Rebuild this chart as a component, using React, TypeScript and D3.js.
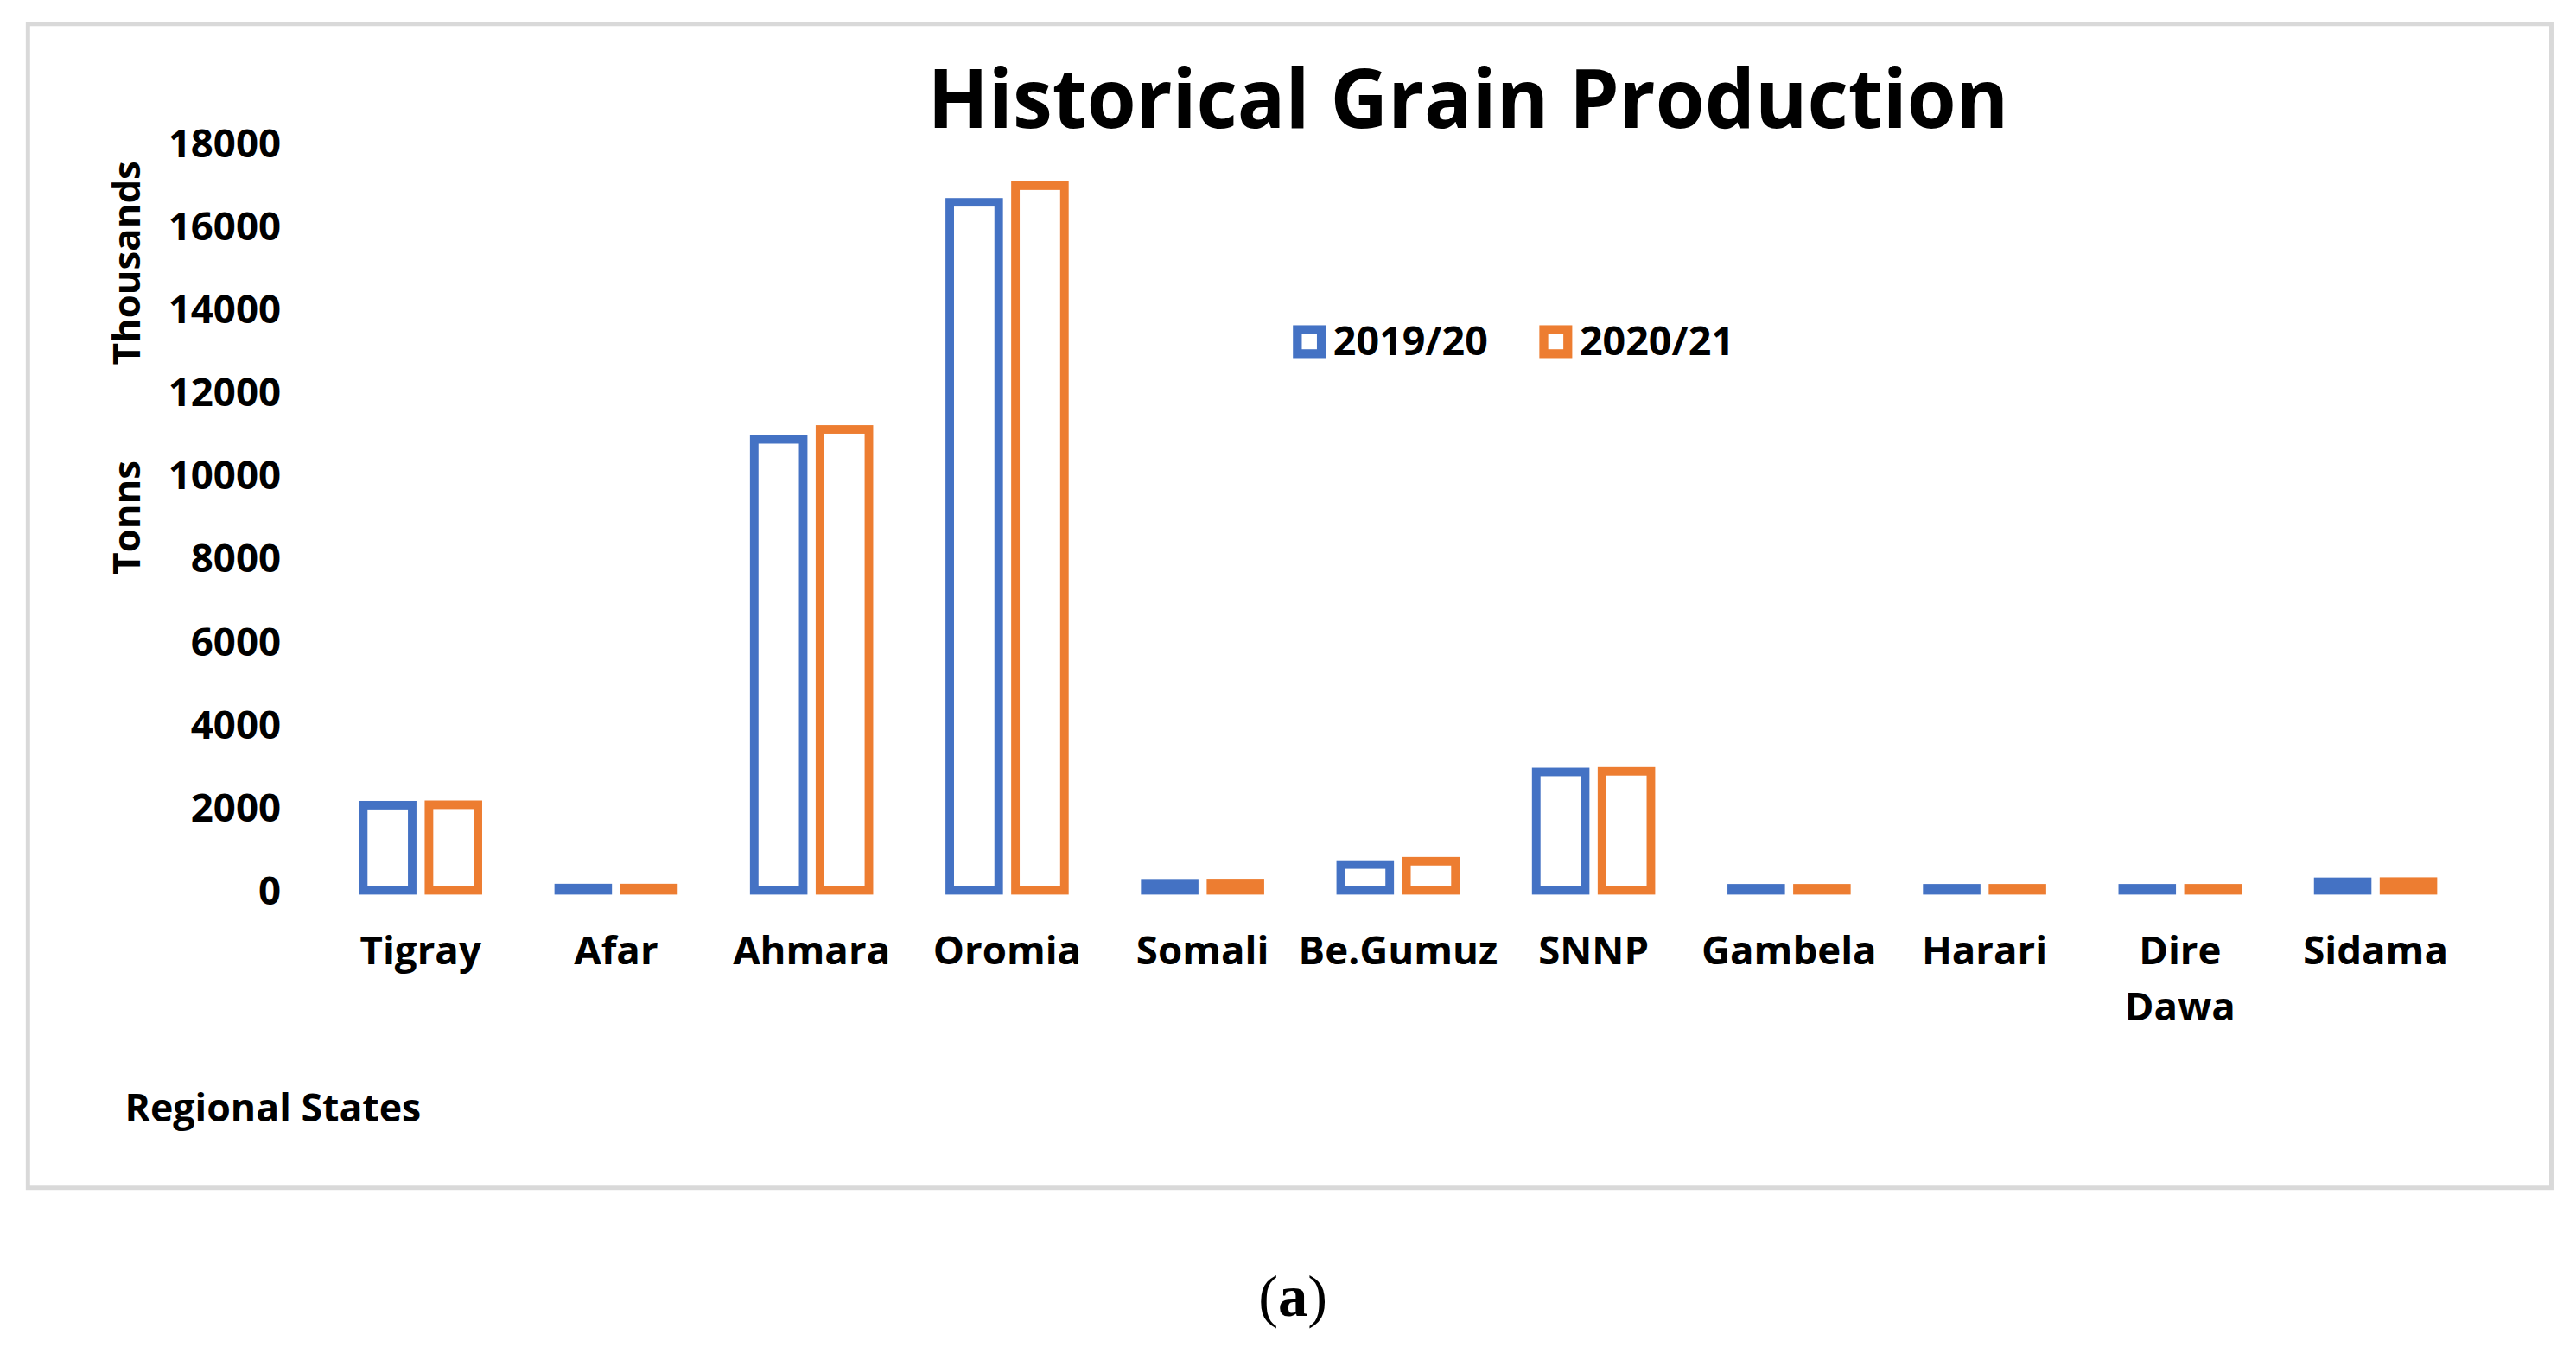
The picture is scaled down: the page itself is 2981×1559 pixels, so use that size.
import { useEffect } from "react";
import * as d3 from "d3";

const regions = [
  "Tigray",
  "Afar",
  "Ahmara",
  "Oromia",
  "Somali",
  "Be.Gumuz",
  "SNNP",
  "Gambela",
  "Harari",
  "Dire Dawa",
  "Sidama",
];
const seriesNames = ["2019/20", "2020/21"];
const prod2019 = [2050, 55, 10860, 16570, 170, 620, 2850, 50, 50, 50, 205];
const prod2020 = [2060, 55, 11100, 16970, 175, 700, 2865, 50, 50, 50, 210];
const yTicks = [0, 2000, 4000, 6000, 8000, 10000, 12000, 14000, 16000, 18000];

const colors = ["#4472C4", "#ED7D31"];
const FONT = "'Open Sans', 'DejaVu Sans', sans-serif";

// drawn in a 1568x820 coordinate space, scaled up to the window
const VW = 1568;
const VH = 820;

export default function App() {
  useEffect(() => {
    document.body.style.margin = "0";
  }, []);

  const x0 = d3.scaleBand<string>().domain(regions).range([196.5, 1505.5]).padding(0);
  const x1 = d3
    .scaleBand<string>()
    .domain(seriesNames)
    .range([-37.5, 37.5])
    .paddingInner(0.125)
    .paddingOuter(0);
  const y = d3.scaleLinear().domain([0, 18000]).range([542, 87]);

  const sw = 5.2;
  const values = [prod2019, prod2020];

  return (
    <svg
      width={2981}
      height={1559}
      viewBox={`0 0 ${VW} ${VH}`}
      style={{ display: "block", background: "#fff" }}
      fontFamily={FONT}
    >
      <rect x={17} y={14.6} width={1536} height={708.5} fill="#fff" stroke="#d9d9d9" strokeWidth={2.6} />

      <text
        x={893.6}
        y={78}
        textAnchor="middle"
        fontSize={50}
        fontWeight={700}
        textLength={658}
        lengthAdjust="spacingAndGlyphs"
        fill="#000"
      >
        Historical Grain Production
      </text>

      {/* y axis tick labels */}
      {yTicks.map((t) => (
        <text
          key={t}
          x={171}
          y={y(t)}
          dy="0.36em"
          textAnchor="end"
          fontSize={24}
          fontWeight={700}
          fill="#000"
        >
          {t}
        </text>
      ))}

      {/* axis title + display units */}
      <text
        transform="translate(85,160) rotate(-90)"
        textAnchor="middle"
        fontSize={23}
        fontWeight={700}
        fill="#000"
      >
        Thousands
      </text>
      <text
        transform="translate(85,315) rotate(-90)"
        textAnchor="middle"
        fontSize={23}
        fontWeight={700}
        fill="#000"
      >
        Tonns
      </text>

      {/* bars */}
      {regions.map((r, i) => (
        <g key={r} transform={`translate(${x0(r)! + x0.bandwidth() / 2},0)`}>
          {seriesNames.map((s, k) => {
            const v = values[k][i];
            return (
              <rect
                key={s}
                x={x1(s)! + sw / 2}
                y={y(v)}
                width={x1.bandwidth() - sw}
                height={y(0) - y(v)}
                fill="#fff"
                stroke={colors[k]}
                strokeWidth={sw}
              />
            );
          })}
        </g>
      ))}

      {/* category labels */}
      {regions.map((r) => {
        const cx = x0(r)! + x0.bandwidth() / 2;
        const lines = r === "Dire Dawa" ? ["Dire", "Dawa"] : [r];
        return (
          <text key={r} x={cx} y={587} textAnchor="middle" fontSize={24} fontWeight={700} fill="#000">
            {lines.map((ln, j) => (
              <tspan key={ln} x={cx} dy={j === 0 ? 0 : 34}>
                {ln}
              </tspan>
            ))}
          </text>
        );
      })}

      {/* legend */}
      {seriesNames.map((s, k) => {
        const lx = k === 0 ? 787 : 937;
        return (
          <g key={s}>
            <rect
              x={lx + 2.7}
              y={198 + 2.7}
              width={20 - 5.4}
              height={20 - 5.4}
              fill="#fff"
              stroke={colors[k]}
              strokeWidth={5.4}
            />
            <text x={lx + 24.5} y={216} fontSize={24.5} fontWeight={700} fill="#000">
              {s}
            </text>
          </g>
        );
      })}

      <text x={76} y={683} fontSize={23.5} fontWeight={700} fill="#000">
        Regional States
      </text>

      <text x={787} y={801} textAnchor="middle" fontSize={36} fontFamily="'Liberation Serif', serif" fill="#000">
        (<tspan fontWeight={700}>a</tspan>)
      </text>
    </svg>
  );
}
